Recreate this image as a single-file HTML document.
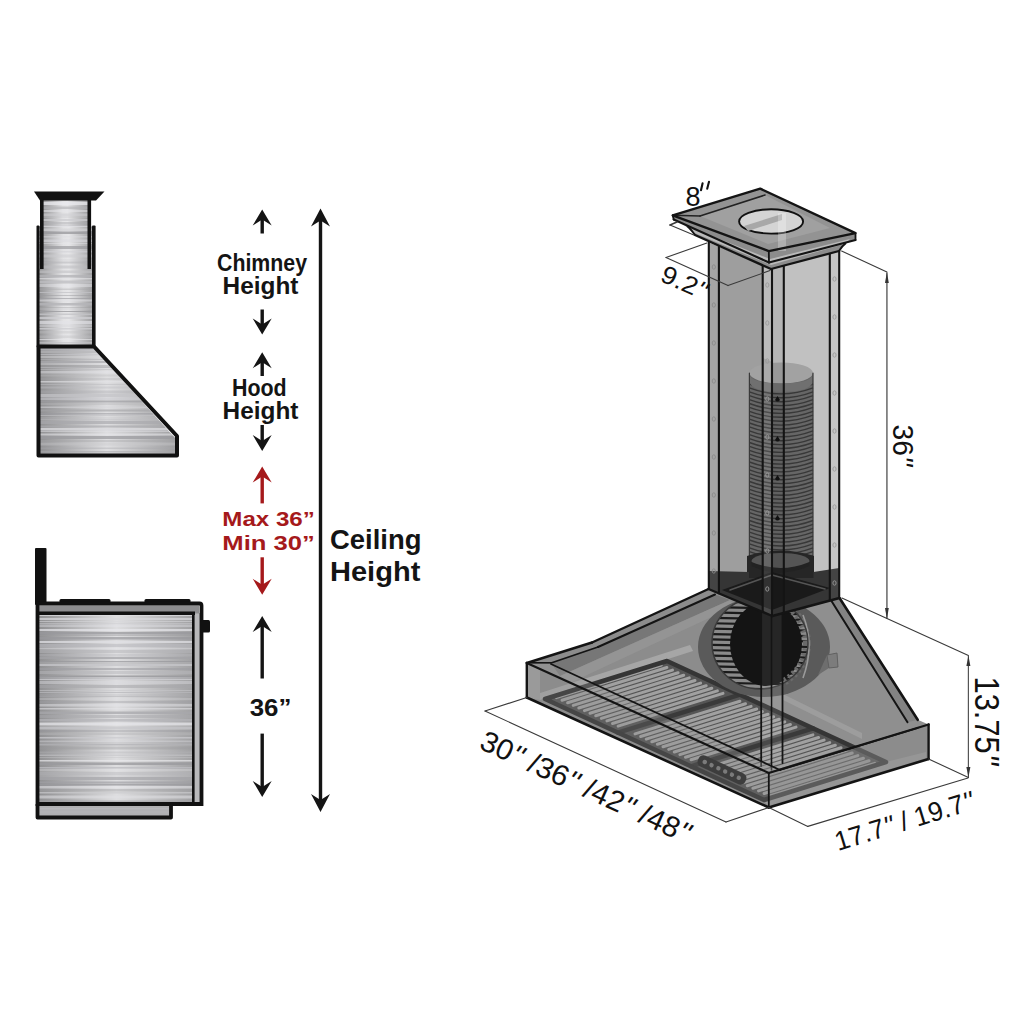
<!DOCTYPE html><html><head><meta charset="utf-8"><style>
html,body{margin:0;padding:0;background:#fff;width:1024px;height:1024px;overflow:hidden}
svg{display:block}
.b{font-family:"Liberation Sans",sans-serif;font-weight:bold}
.r{font-family:"Liberation Sans",sans-serif;font-weight:normal}
</style></head><body>
<svg width="1024" height="1024" viewBox="0 0 1024 1024">
<defs>
<linearGradient id="steel" x1="0" x2="1" y1="0" y2="0">
<stop offset="0" stop-color="#8e8e90"/><stop offset="0.45" stop-color="#e2e2e4"/><stop offset="0.55" stop-color="#e6e6e8"/><stop offset="1" stop-color="#9a9a9c"/>
</linearGradient>
<linearGradient id="steel2" x1="0" x2="1" y1="0" y2="0">
<stop offset="0" stop-color="#909092"/><stop offset="0.5" stop-color="#dedee0"/><stop offset="1" stop-color="#a0a0a2"/>
</linearGradient>
</defs>
<rect width="1024" height="1024" fill="#fff"/>
<g id="lefthood"><rect x="41" y="200" width="48" height="147" fill="url(#steel)"/><rect x="38" y="226" width="56" height="121" fill="url(#steel)"/><g><rect x="41" y="200.0" width="47" height="1" fill="rgb(161,161,165)" opacity="0.39"/><rect x="41" y="202.0" width="47" height="3" fill="rgb(235,235,239)" opacity="0.73"/><rect x="41" y="206.5" width="47" height="2.5" fill="rgb(177,177,181)" opacity="0.62"/><rect x="41" y="210.0" width="47" height="2" fill="rgb(231,231,235)" opacity="0.53"/><rect x="41" y="213.5" width="47" height="2.5" fill="rgb(206,206,210)" opacity="0.58"/><rect x="41" y="216.5" width="47" height="1" fill="rgb(196,196,200)" opacity="0.56"/><rect x="41" y="219.0" width="47" height="2" fill="rgb(204,204,208)" opacity="0.75"/><rect x="41" y="222.0" width="47" height="2.5" fill="rgb(172,172,176)" opacity="0.46"/><rect x="41" y="225.0" width="47" height="1" fill="rgb(191,191,195)" opacity="0.43"/></g><g><rect x="38" y="226.0" width="56" height="1" fill="rgb(225,225,229)" opacity="0.59"/><rect x="38" y="228.5" width="56" height="2.5" fill="rgb(210,210,214)" opacity="0.63"/><rect x="38" y="231.5" width="56" height="2.5" fill="rgb(151,151,155)" opacity="0.76"/><rect x="38" y="236.0" width="56" height="1.5" fill="rgb(220,220,224)" opacity="0.46"/><rect x="38" y="239.5" width="56" height="2.5" fill="rgb(220,220,224)" opacity="0.56"/><rect x="38" y="243.0" width="56" height="1" fill="rgb(231,231,235)" opacity="0.42"/><rect x="38" y="246.0" width="56" height="3" fill="rgb(151,151,155)" opacity="0.65"/><rect x="38" y="249.5" width="56" height="1" fill="rgb(225,225,229)" opacity="0.37"/><rect x="38" y="251.0" width="56" height="1.5" fill="rgb(210,210,214)" opacity="0.62"/><rect x="38" y="254.5" width="56" height="3" fill="rgb(204,204,208)" opacity="0.53"/><rect x="38" y="259.5" width="56" height="1" fill="rgb(196,196,200)" opacity="0.39"/><rect x="38" y="261.5" width="56" height="2" fill="rgb(177,177,181)" opacity="0.47"/><rect x="38" y="265.5" width="56" height="3" fill="rgb(188,188,192)" opacity="0.54"/><rect x="38" y="270.5" width="56" height="2.5" fill="rgb(194,194,198)" opacity="0.59"/><rect x="38" y="275.0" width="56" height="2.5" fill="rgb(179,179,183)" opacity="0.76"/><rect x="38" y="278.0" width="56" height="1.5" fill="rgb(227,227,231)" opacity="0.65"/><rect x="38" y="280.5" width="56" height="3" fill="rgb(191,191,195)" opacity="0.78"/><rect x="38" y="284.0" width="56" height="3" fill="rgb(233,233,237)" opacity="0.45"/><rect x="38" y="288.5" width="56" height="1.5" fill="rgb(165,165,169)" opacity="0.38"/><rect x="38" y="292.0" width="56" height="1" fill="rgb(194,194,198)" opacity="0.71"/><rect x="38" y="295.0" width="56" height="1" fill="rgb(152,152,156)" opacity="0.48"/><rect x="38" y="298.0" width="56" height="1" fill="rgb(155,155,159)" opacity="0.62"/><rect x="38" y="299.5" width="56" height="2" fill="rgb(225,225,229)" opacity="0.50"/><rect x="38" y="303.0" width="56" height="2.5" fill="rgb(180,180,184)" opacity="0.80"/><rect x="38" y="307.0" width="56" height="1" fill="rgb(159,159,163)" opacity="0.40"/><rect x="38" y="308.5" width="56" height="1" fill="rgb(202,202,206)" opacity="0.48"/><rect x="38" y="311.0" width="56" height="1" fill="rgb(155,155,159)" opacity="0.79"/><rect x="38" y="313.5" width="56" height="1.5" fill="rgb(196,196,200)" opacity="0.78"/><rect x="38" y="317.0" width="56" height="2" fill="rgb(208,208,212)" opacity="0.74"/><rect x="38" y="321.0" width="56" height="3" fill="rgb(226,226,230)" opacity="0.66"/><rect x="38" y="324.5" width="56" height="2.5" fill="rgb(214,214,218)" opacity="0.47"/><rect x="38" y="328.0" width="56" height="1.5" fill="rgb(205,205,209)" opacity="0.79"/><rect x="38" y="331.0" width="56" height="2.5" fill="rgb(193,193,197)" opacity="0.36"/><rect x="38" y="335.5" width="56" height="2.5" fill="rgb(190,190,194)" opacity="0.36"/><rect x="38" y="339.0" width="56" height="1" fill="rgb(231,231,235)" opacity="0.63"/><rect x="38" y="342.0" width="56" height="1.5" fill="rgb(195,195,199)" opacity="0.62"/><rect x="38" y="345.0" width="56" height="3" fill="rgb(212,212,216)" opacity="0.36"/></g><path d="M39,348 L93.5,348 L175,438 L175,454 L39,454 Z" fill="url(#steel2)"/><clipPath id="hc"><path d="M39,348 L93.5,348 L175,438 L175,454 L39,454 Z"/></clipPath><g clip-path="url(#hc)"><rect x="39" y="348.0" width="137" height="2.5" fill="rgb(182,182,186)" opacity="0.68"/><rect x="39" y="351.0" width="137" height="2" fill="rgb(181,181,185)" opacity="0.64"/><rect x="39" y="354.0" width="137" height="1" fill="rgb(197,197,201)" opacity="0.56"/><rect x="39" y="356.0" width="137" height="2" fill="rgb(219,219,223)" opacity="0.40"/><rect x="39" y="359.0" width="137" height="1" fill="rgb(177,177,181)" opacity="0.53"/><rect x="39" y="361.0" width="137" height="2" fill="rgb(170,170,174)" opacity="0.69"/><rect x="39" y="363.5" width="137" height="1" fill="rgb(229,229,233)" opacity="0.63"/><rect x="39" y="365.5" width="137" height="1" fill="rgb(150,150,154)" opacity="0.79"/><rect x="39" y="367.0" width="137" height="1" fill="rgb(177,177,181)" opacity="0.78"/><rect x="39" y="369.0" width="137" height="1" fill="rgb(187,187,191)" opacity="0.49"/><rect x="39" y="371.0" width="137" height="2.5" fill="rgb(230,230,234)" opacity="0.44"/><rect x="39" y="374.5" width="137" height="2" fill="rgb(188,188,192)" opacity="0.36"/><rect x="39" y="378.5" width="137" height="1" fill="rgb(168,168,172)" opacity="0.47"/><rect x="39" y="381.0" width="137" height="1.5" fill="rgb(227,227,231)" opacity="0.61"/><rect x="39" y="384.0" width="137" height="1" fill="rgb(189,189,193)" opacity="0.51"/><rect x="39" y="386.5" width="137" height="2" fill="rgb(190,190,194)" opacity="0.43"/><rect x="39" y="390.5" width="137" height="3" fill="rgb(172,172,176)" opacity="0.38"/><rect x="39" y="394.0" width="137" height="3" fill="rgb(195,195,199)" opacity="0.73"/><rect x="39" y="397.5" width="137" height="2.5" fill="rgb(203,203,207)" opacity="0.51"/><rect x="39" y="400.5" width="137" height="2" fill="rgb(155,155,159)" opacity="0.67"/><rect x="39" y="403.5" width="137" height="1" fill="rgb(181,181,185)" opacity="0.77"/><rect x="39" y="406.5" width="137" height="1.5" fill="rgb(215,215,219)" opacity="0.51"/><rect x="39" y="409.5" width="137" height="2" fill="rgb(163,163,167)" opacity="0.62"/><rect x="39" y="413.0" width="137" height="1.5" fill="rgb(154,154,158)" opacity="0.54"/><rect x="39" y="415.0" width="137" height="1" fill="rgb(193,193,197)" opacity="0.58"/><rect x="39" y="417.5" width="137" height="1" fill="rgb(193,193,197)" opacity="0.47"/><rect x="39" y="419.0" width="137" height="1.5" fill="rgb(190,190,194)" opacity="0.49"/><rect x="39" y="421.0" width="137" height="3" fill="rgb(169,169,173)" opacity="0.67"/><rect x="39" y="425.5" width="137" height="2" fill="rgb(170,170,174)" opacity="0.67"/><rect x="39" y="428.0" width="137" height="2.5" fill="rgb(218,218,222)" opacity="0.77"/><rect x="39" y="431.0" width="137" height="1" fill="rgb(226,226,230)" opacity="0.50"/><rect x="39" y="433.5" width="137" height="2" fill="rgb(233,233,237)" opacity="0.54"/><rect x="39" y="436.0" width="137" height="3" fill="rgb(154,154,158)" opacity="0.71"/><rect x="39" y="440.5" width="137" height="1" fill="rgb(166,166,170)" opacity="0.79"/><rect x="39" y="442.5" width="137" height="3" fill="rgb(202,202,206)" opacity="0.40"/><rect x="39" y="447.5" width="137" height="1.5" fill="rgb(169,169,173)" opacity="0.38"/><rect x="39" y="451.0" width="137" height="1.5" fill="rgb(168,168,172)" opacity="0.55"/><rect x="39" y="453.5" width="137" height="2.5" fill="rgb(208,208,212)" opacity="0.78"/></g><path d="M34,191.5 L104.5,191.5 L96,200.5 L40,200.5 Z" fill="#111"/><rect x="40" y="199" width="3.6" height="70" fill="#111"/><rect x="87.5" y="199" width="3.6" height="70" fill="#111"/><rect x="36.5" y="225.5" width="3" height="122" rx="1" fill="#111"/><rect x="92" y="225.5" width="3.6" height="122" rx="1" fill="#111"/><path d="M38.5,346.5 L94,346.5 L177,436 L177,455.5 L38.5,455.5 Z" fill="none" stroke="#111" stroke-width="4" stroke-linejoin="round"/></g><g id="stove"><rect x="39" y="613" width="155" height="189" fill="url(#steel2)"/><g><rect x="39" y="614.0" width="154" height="2" fill="rgb(221,221,225)" opacity="0.74"/><rect x="39" y="618.0" width="154" height="2" fill="rgb(215,215,219)" opacity="0.73"/><rect x="39" y="621.0" width="154" height="1" fill="rgb(215,215,219)" opacity="0.56"/><rect x="39" y="623.0" width="154" height="1" fill="rgb(207,207,211)" opacity="0.49"/><rect x="39" y="624.5" width="154" height="2.5" fill="rgb(231,231,235)" opacity="0.37"/><rect x="39" y="629.0" width="154" height="2" fill="rgb(233,233,237)" opacity="0.68"/><rect x="39" y="632.0" width="154" height="2.5" fill="rgb(151,151,155)" opacity="0.72"/><rect x="39" y="635.0" width="154" height="1" fill="rgb(154,154,158)" opacity="0.44"/><rect x="39" y="637.0" width="154" height="2.5" fill="rgb(153,153,157)" opacity="0.70"/><rect x="39" y="641.0" width="154" height="2" fill="rgb(225,225,229)" opacity="0.73"/><rect x="39" y="644.0" width="154" height="3" fill="rgb(187,187,191)" opacity="0.57"/><rect x="39" y="647.5" width="154" height="2" fill="rgb(233,233,237)" opacity="0.48"/><rect x="39" y="650.0" width="154" height="3" fill="rgb(182,182,186)" opacity="0.49"/><rect x="39" y="654.0" width="154" height="2.5" fill="rgb(186,186,190)" opacity="0.36"/><rect x="39" y="657.0" width="154" height="2" fill="rgb(163,163,167)" opacity="0.73"/><rect x="39" y="661.0" width="154" height="1" fill="rgb(152,152,156)" opacity="0.73"/><rect x="39" y="662.5" width="154" height="1" fill="rgb(176,176,180)" opacity="0.77"/><rect x="39" y="664.0" width="154" height="2" fill="rgb(198,198,202)" opacity="0.79"/><rect x="39" y="668.0" width="154" height="2" fill="rgb(159,159,163)" opacity="0.60"/><rect x="39" y="671.0" width="154" height="3" fill="rgb(184,184,188)" opacity="0.50"/><rect x="39" y="675.5" width="154" height="1.5" fill="rgb(151,151,155)" opacity="0.78"/><rect x="39" y="677.5" width="154" height="1" fill="rgb(181,181,185)" opacity="0.67"/><rect x="39" y="679.0" width="154" height="1" fill="rgb(209,209,213)" opacity="0.71"/><rect x="39" y="681.0" width="154" height="3" fill="rgb(221,221,225)" opacity="0.43"/><rect x="39" y="685.0" width="154" height="3" fill="rgb(166,166,170)" opacity="0.54"/><rect x="39" y="690.0" width="154" height="1" fill="rgb(200,200,204)" opacity="0.54"/><rect x="39" y="692.0" width="154" height="1" fill="rgb(184,184,188)" opacity="0.74"/><rect x="39" y="694.5" width="154" height="1" fill="rgb(176,176,180)" opacity="0.43"/><rect x="39" y="696.0" width="154" height="1" fill="rgb(168,168,172)" opacity="0.45"/><rect x="39" y="698.5" width="154" height="1" fill="rgb(228,228,232)" opacity="0.50"/><rect x="39" y="701.0" width="154" height="2" fill="rgb(159,159,163)" opacity="0.38"/><rect x="39" y="704.0" width="154" height="2.5" fill="rgb(231,231,235)" opacity="0.46"/><rect x="39" y="708.0" width="154" height="1.5" fill="rgb(229,229,233)" opacity="0.55"/><rect x="39" y="711.5" width="154" height="2.5" fill="rgb(167,167,171)" opacity="0.74"/><rect x="39" y="715.0" width="154" height="3" fill="rgb(169,169,173)" opacity="0.49"/><rect x="39" y="719.0" width="154" height="2.5" fill="rgb(181,181,185)" opacity="0.68"/><rect x="39" y="722.5" width="154" height="3" fill="rgb(230,230,234)" opacity="0.77"/><rect x="39" y="726.5" width="154" height="3" fill="rgb(199,199,203)" opacity="0.75"/><rect x="39" y="730.0" width="154" height="2" fill="rgb(156,156,160)" opacity="0.40"/><rect x="39" y="732.5" width="154" height="2.5" fill="rgb(182,182,186)" opacity="0.46"/><rect x="39" y="737.0" width="154" height="1.5" fill="rgb(203,203,207)" opacity="0.72"/><rect x="39" y="740.5" width="154" height="1.5" fill="rgb(216,216,220)" opacity="0.43"/><rect x="39" y="742.5" width="154" height="1" fill="rgb(179,179,183)" opacity="0.57"/><rect x="39" y="744.0" width="154" height="1.5" fill="rgb(177,177,181)" opacity="0.76"/><rect x="39" y="746.5" width="154" height="3" fill="rgb(152,152,156)" opacity="0.38"/><rect x="39" y="751.5" width="154" height="2" fill="rgb(181,181,185)" opacity="0.38"/><rect x="39" y="754.5" width="154" height="1.5" fill="rgb(197,197,201)" opacity="0.59"/><rect x="39" y="757.0" width="154" height="1" fill="rgb(196,196,200)" opacity="0.41"/><rect x="39" y="760.0" width="154" height="1.5" fill="rgb(234,234,238)" opacity="0.68"/><rect x="39" y="762.5" width="154" height="2.5" fill="rgb(154,154,158)" opacity="0.77"/><rect x="39" y="767.0" width="154" height="1.5" fill="rgb(189,189,193)" opacity="0.78"/><rect x="39" y="769.0" width="154" height="2.5" fill="rgb(231,231,235)" opacity="0.38"/><rect x="39" y="772.0" width="154" height="3" fill="rgb(189,189,193)" opacity="0.49"/><rect x="39" y="775.5" width="154" height="1" fill="rgb(207,207,211)" opacity="0.60"/><rect x="39" y="777.0" width="154" height="3" fill="rgb(166,166,170)" opacity="0.71"/><rect x="39" y="781.5" width="154" height="1.5" fill="rgb(160,160,164)" opacity="0.66"/><rect x="39" y="783.5" width="154" height="2" fill="rgb(153,153,157)" opacity="0.74"/><rect x="39" y="786.0" width="154" height="2.5" fill="rgb(234,234,238)" opacity="0.52"/><rect x="39" y="789.0" width="154" height="2.5" fill="rgb(159,159,163)" opacity="0.39"/><rect x="39" y="792.0" width="154" height="1.5" fill="rgb(203,203,207)" opacity="0.68"/><rect x="39" y="795.5" width="154" height="3" fill="rgb(224,224,228)" opacity="0.56"/><rect x="39" y="800.5" width="154" height="2.5" fill="rgb(160,160,164)" opacity="0.58"/></g><rect x="194" y="613" width="6" height="189" fill="#b8b8ba"/><rect x="39" y="806" width="131" height="11" fill="#b0b0b2"/><g><rect x="40" y="808.0" width="129" height="1.5" fill="rgb(187,187,191)" opacity="0.66"/><rect x="40" y="810.5" width="129" height="3" fill="rgb(179,179,183)" opacity="0.65"/><rect x="40" y="814.5" width="129" height="3" fill="rgb(173,173,177)" opacity="0.41"/></g><rect x="35" y="548" width="11.5" height="57" rx="1" fill="#111"/><rect x="59.5" y="599" width="51" height="6" rx="1.5" fill="#111"/><rect x="144.5" y="599" width="46" height="6" rx="1.5" fill="#111"/><rect x="38" y="605.5" width="161" height="8" fill="#8d8d8f"/><path d="M37.5,603.5 L199.5,603.5 Q201.5,603.5 201.5,605.5 L201.5,804 L37.5,804 Z" fill="none" stroke="#111" stroke-width="3.8"/><rect x="37" y="611.5" width="158" height="3.5" fill="#111"/><rect x="192" y="612" width="2.6" height="190" fill="#111"/><path d="M37.5,804 L37.5,817.5 L171,817.5 L171,804" fill="none" stroke="#111" stroke-width="3.8" stroke-linejoin="round"/><rect x="200" y="620" width="10" height="12.5" rx="1.5" fill="#111"/></g><path d="M262.2,209.5 L271.7,225.5 L262.2,219.5 L252.7,225.5 Z" fill="#141414"/><rect x="260.5" y="218.5" width="3.4" height="15.0" fill="#141414"/><path d="M262.2,334.5 L271.7,318.5 L262.2,324.5 L252.7,318.5 Z" fill="#141414"/><rect x="260.5" y="309.5" width="3.4" height="16.0" fill="#141414"/><path d="M262.2,352.2 L271.7,368.2 L262.2,362.2 L252.7,368.2 Z" fill="#141414"/><rect x="260.5" y="361.2" width="3.4" height="14.800000000000011" fill="#141414"/><path d="M262.2,451 L271.7,435 L262.2,441 L252.7,435 Z" fill="#141414"/><rect x="260.5" y="425" width="3.4" height="17" fill="#141414"/><path d="M262.2,466.6 L271.7,482.6 L262.2,476.6 L252.7,482.6 Z" fill="#a5191b"/><rect x="260.5" y="475.6" width="3.4" height="27.799999999999955" fill="#a5191b"/><path d="M262.2,594.8 L271.7,578.8 L262.2,584.8 L252.7,578.8 Z" fill="#a5191b"/><rect x="260.5" y="557.3" width="3.4" height="28.5" fill="#a5191b"/><path d="M262.2,616 L271.7,632 L262.2,626 L252.7,632 Z" fill="#141414"/><rect x="260.5" y="625" width="3.4" height="53.5" fill="#141414"/><path d="M262.2,796.9 L271.7,780.9 L262.2,786.9 L252.7,780.9 Z" fill="#141414"/><rect x="260.5" y="733.6" width="3.4" height="54.299999999999955" fill="#141414"/><path d="M320.5,208.4 L330.0,226.4 L320.5,220.4 L311.0,226.4 Z" fill="#141414"/><path d="M320.5,812 L330.0,794 L320.5,800 L311.0,794 Z" fill="#141414"/><rect x="318.8" y="218" width="3.4" height="585" fill="#141414"/><text class="b" x="217" y="271" font-size="23.3" fill="#141414" textLength="90" lengthAdjust="spacingAndGlyphs">Chimney</text><text class="b" x="222.6" y="294" font-size="23.3" fill="#141414" textLength="75.79999999999998" lengthAdjust="spacingAndGlyphs">Height</text><text class="b" x="232" y="396" font-size="23.3" fill="#141414" textLength="54.69999999999999" lengthAdjust="spacingAndGlyphs">Hood</text><text class="b" x="222.6" y="419" font-size="23.3" fill="#141414" textLength="75.79999999999998" lengthAdjust="spacingAndGlyphs">Height</text><text class="b" x="222.3" y="525.6" font-size="21" fill="#a5191b" textLength="92.5" lengthAdjust="spacingAndGlyphs">Max 36”</text><text class="b" x="222.3" y="549.8" font-size="21" fill="#a5191b" textLength="92.5" lengthAdjust="spacingAndGlyphs">Min 30”</text><text class="b" x="330" y="548.6" font-size="28.3" fill="#141414" textLength="91.5" lengthAdjust="spacingAndGlyphs">Ceiling</text><text class="b" x="330" y="580.7" font-size="28.3" fill="#141414" textLength="90.30000000000001" lengthAdjust="spacingAndGlyphs">Height</text><text class="b" x="249.7" y="716" font-size="24.2" fill="#141414" textLength="41.69999999999999" lengthAdjust="spacingAndGlyphs">36”</text><g id="right"><polygon points="526.8,663.0 592.0,642.5 708.5,589.0 772.3,616.0 768.8,773.0" fill="#8c8c8c" stroke="none" stroke-width="0" stroke-linejoin="round" /><polygon points="768.8,773.0 772.3,616.0 839.5,598.0 917.7,719.8 928.6,724.5" fill="#8f8f8f" stroke="none" stroke-width="0" stroke-linejoin="round" /><polygon points="526.8,663.0 768.8,773.0 768.8,807.5 526.8,697.5" fill="#8c8c8c" stroke="none" stroke-width="0" stroke-linejoin="round" /><polygon points="768.8,773.0 928.6,724.5 928.6,759.0 768.8,807.5" fill="#8e8e8e" stroke="none" stroke-width="0" stroke-linejoin="round" /><polygon points="783.0,694.0 862.0,733.0 862.0,739.0 783.0,700.0" fill="#a2a2a2" stroke="none" stroke-width="0" stroke-linejoin="round" opacity="0.7"/><clipPath id="hoodclip"><polygon points="526.8,663.0 592.0,642.5 708.5,589.0 772.3,616.0 839.5,598.0 917.7,719.8 928.6,724.5 928.6,759.0 768.8,807.5 526.8,697.5" fill="none" stroke="none" stroke-width="0" stroke-linejoin="round" /></clipPath><g clip-path="url(#hoodclip)"><polygon points="551.0,663.0 598.0,647.0 715.0,594.5 730.0,600.0 600.0,658.0 560.0,676.0" fill="#6e6e6e" stroke="none" stroke-width="0" stroke-linejoin="round" opacity="0.7"/><polygon points="560.0,676.0 730.0,600.0 735.0,606.0 572.0,682.0" fill="#999999" stroke="none" stroke-width="0" stroke-linejoin="round" opacity="0.6"/><polygon points="537.0,694.0 690.0,645.0 693.0,651.0 540.0,700.0" fill="#a6a6a6" stroke="none" stroke-width="0" stroke-linejoin="round" /><polygon points="764.0,800.0 886.0,762.0 926.0,752.0 926.0,758.0 768.0,806.0" fill="#a0a0a0" stroke="none" stroke-width="0" stroke-linejoin="round" /><polygon points="545.0,699.0 764.0,800.0 886.0,762.0 667.0,661.0" fill="#555555" stroke="none" stroke-width="0" stroke-linejoin="round" /><line x1="556.3" y1="697.6" x2="661.3" y2="665.0" stroke="#a0a0a0" stroke-width="3.0" stroke-linecap="round" /><line x1="562.0" y1="700.2" x2="666.9" y2="667.5" stroke="#a0a0a0" stroke-width="3.0" stroke-linecap="round" /><line x1="567.6" y1="702.8" x2="672.5" y2="670.1" stroke="#a0a0a0" stroke-width="3.0" stroke-linecap="round" /><line x1="573.2" y1="705.4" x2="678.1" y2="672.7" stroke="#a0a0a0" stroke-width="3.0" stroke-linecap="round" /><line x1="578.8" y1="708.0" x2="683.7" y2="675.3" stroke="#a0a0a0" stroke-width="3.0" stroke-linecap="round" /><line x1="584.4" y1="710.6" x2="689.3" y2="677.9" stroke="#a0a0a0" stroke-width="3.0" stroke-linecap="round" /><line x1="590.0" y1="713.2" x2="695.0" y2="680.5" stroke="#a0a0a0" stroke-width="3.0" stroke-linecap="round" /><line x1="595.7" y1="715.8" x2="700.6" y2="683.1" stroke="#a0a0a0" stroke-width="3.0" stroke-linecap="round" /><line x1="601.3" y1="718.4" x2="706.2" y2="685.7" stroke="#a0a0a0" stroke-width="3.0" stroke-linecap="round" /><line x1="606.9" y1="720.9" x2="711.8" y2="688.3" stroke="#a0a0a0" stroke-width="3.0" stroke-linecap="round" /><line x1="612.5" y1="723.5" x2="717.4" y2="690.9" stroke="#a0a0a0" stroke-width="3.0" stroke-linecap="round" /><line x1="618.1" y1="726.1" x2="723.0" y2="693.4" stroke="#a0a0a0" stroke-width="3.0" stroke-linecap="round" /><line x1="635.0" y1="733.9" x2="739.9" y2="701.2" stroke="#a0a0a0" stroke-width="3.0" stroke-linecap="round" /><line x1="640.6" y1="736.5" x2="745.5" y2="703.8" stroke="#a0a0a0" stroke-width="3.0" stroke-linecap="round" /><line x1="646.2" y1="739.1" x2="751.1" y2="706.4" stroke="#a0a0a0" stroke-width="3.0" stroke-linecap="round" /><line x1="651.8" y1="741.7" x2="756.7" y2="709.0" stroke="#a0a0a0" stroke-width="3.0" stroke-linecap="round" /><line x1="657.4" y1="744.3" x2="762.3" y2="711.6" stroke="#a0a0a0" stroke-width="3.0" stroke-linecap="round" /><line x1="663.0" y1="746.8" x2="768.0" y2="714.2" stroke="#a0a0a0" stroke-width="3.0" stroke-linecap="round" /><line x1="668.7" y1="749.4" x2="773.6" y2="716.7" stroke="#a0a0a0" stroke-width="3.0" stroke-linecap="round" /><line x1="674.3" y1="752.0" x2="779.2" y2="719.3" stroke="#a0a0a0" stroke-width="3.0" stroke-linecap="round" /><line x1="679.9" y1="754.6" x2="784.8" y2="721.9" stroke="#a0a0a0" stroke-width="3.0" stroke-linecap="round" /><line x1="685.5" y1="757.2" x2="790.4" y2="724.5" stroke="#a0a0a0" stroke-width="3.0" stroke-linecap="round" /><line x1="691.1" y1="759.8" x2="796.0" y2="727.1" stroke="#a0a0a0" stroke-width="3.0" stroke-linecap="round" /><line x1="708.0" y1="767.6" x2="812.9" y2="734.9" stroke="#a0a0a0" stroke-width="3.0" stroke-linecap="round" /><line x1="713.6" y1="770.1" x2="818.5" y2="737.5" stroke="#a0a0a0" stroke-width="3.0" stroke-linecap="round" /><line x1="719.2" y1="772.7" x2="824.1" y2="740.1" stroke="#a0a0a0" stroke-width="3.0" stroke-linecap="round" /><line x1="724.8" y1="775.3" x2="829.7" y2="742.6" stroke="#a0a0a0" stroke-width="3.0" stroke-linecap="round" /><line x1="730.4" y1="777.9" x2="835.3" y2="745.2" stroke="#a0a0a0" stroke-width="3.0" stroke-linecap="round" /><line x1="736.0" y1="780.5" x2="841.0" y2="747.8" stroke="#a0a0a0" stroke-width="3.0" stroke-linecap="round" /><line x1="741.7" y1="783.1" x2="846.6" y2="750.4" stroke="#a0a0a0" stroke-width="3.0" stroke-linecap="round" /><line x1="747.3" y1="785.7" x2="852.2" y2="753.0" stroke="#a0a0a0" stroke-width="3.0" stroke-linecap="round" /><line x1="752.9" y1="788.3" x2="857.8" y2="755.6" stroke="#a0a0a0" stroke-width="3.0" stroke-linecap="round" /><line x1="758.5" y1="790.9" x2="863.4" y2="758.2" stroke="#a0a0a0" stroke-width="3.0" stroke-linecap="round" /><line x1="764.1" y1="793.5" x2="869.0" y2="760.8" stroke="#a0a0a0" stroke-width="3.0" stroke-linecap="round" /><line x1="769.7" y1="796.0" x2="874.7" y2="763.4" stroke="#a0a0a0" stroke-width="3.0" stroke-linecap="round" /><line x1="618.0" y1="732.7" x2="740.0" y2="694.7" stroke="#3a3a3a" stroke-width="4.5" stroke-linecap="round" /><line x1="691.0" y1="766.3" x2="813.0" y2="728.3" stroke="#3a3a3a" stroke-width="4.5" stroke-linecap="round" /><polygon points="545.0,699.0 764.0,800.0 886.0,762.0 667.0,661.0" fill="none" stroke="#353535" stroke-width="4.5" stroke-linejoin="round" /><g transform="translate(722,770) rotate(25)"><rect x="-26" y="-6" width="52" height="12" rx="5" fill="#2a2a2a"/><circle cx="-19.0" cy="0" r="2.2" fill="#777"/><circle cx="-11.5" cy="0" r="2.2" fill="#777"/><circle cx="-4.0" cy="0" r="2.2" fill="#777"/><circle cx="3.5" cy="0" r="2.2" fill="#777"/><circle cx="11.0" cy="0" r="2.2" fill="#777"/><circle cx="18.5" cy="0" r="2.2" fill="#777"/></g></g><ellipse cx="764" cy="647" rx="66" ry="50" fill="#5a5a5a"/><clipPath id="wheel"><ellipse cx="760" cy="643" rx="48" ry="46"/></clipPath><g clip-path="url(#wheel)"><rect x="700" y="590" width="120" height="110" fill="#8a8a8a"/><line x1="700.0" y1="596.0" x2="820.0" y2="598.5" stroke="#1a1a1a" stroke-width="2.2" stroke-linecap="round" /><line x1="700.0" y1="601.4" x2="820.0" y2="603.9" stroke="#1a1a1a" stroke-width="2.2" stroke-linecap="round" /><line x1="700.0" y1="606.8" x2="820.0" y2="609.3" stroke="#1a1a1a" stroke-width="2.2" stroke-linecap="round" /><line x1="700.0" y1="612.2" x2="820.0" y2="614.7" stroke="#1a1a1a" stroke-width="2.2" stroke-linecap="round" /><line x1="700.0" y1="617.6" x2="820.0" y2="620.1" stroke="#1a1a1a" stroke-width="2.2" stroke-linecap="round" /><line x1="700.0" y1="623.0" x2="820.0" y2="625.5" stroke="#1a1a1a" stroke-width="2.2" stroke-linecap="round" /><line x1="700.0" y1="628.4" x2="820.0" y2="630.9" stroke="#1a1a1a" stroke-width="2.2" stroke-linecap="round" /><line x1="700.0" y1="633.8" x2="820.0" y2="636.3" stroke="#1a1a1a" stroke-width="2.2" stroke-linecap="round" /><line x1="700.0" y1="639.2" x2="820.0" y2="641.7" stroke="#1a1a1a" stroke-width="2.2" stroke-linecap="round" /><line x1="700.0" y1="644.6" x2="820.0" y2="647.1" stroke="#1a1a1a" stroke-width="2.2" stroke-linecap="round" /><line x1="700.0" y1="650.0" x2="820.0" y2="652.5" stroke="#1a1a1a" stroke-width="2.2" stroke-linecap="round" /><line x1="700.0" y1="655.4" x2="820.0" y2="657.9" stroke="#1a1a1a" stroke-width="2.2" stroke-linecap="round" /><line x1="700.0" y1="660.8" x2="820.0" y2="663.3" stroke="#1a1a1a" stroke-width="2.2" stroke-linecap="round" /><line x1="700.0" y1="666.2" x2="820.0" y2="668.7" stroke="#1a1a1a" stroke-width="2.2" stroke-linecap="round" /><line x1="700.0" y1="671.6" x2="820.0" y2="674.1" stroke="#1a1a1a" stroke-width="2.2" stroke-linecap="round" /><line x1="700.0" y1="677.0" x2="820.0" y2="679.5" stroke="#1a1a1a" stroke-width="2.2" stroke-linecap="round" /><line x1="700.0" y1="682.4" x2="820.0" y2="684.9" stroke="#1a1a1a" stroke-width="2.2" stroke-linecap="round" /><line x1="700.0" y1="687.8" x2="820.0" y2="690.3" stroke="#1a1a1a" stroke-width="2.2" stroke-linecap="round" /></g><ellipse cx="766" cy="644" rx="36" ry="42" fill="#141414"/><clipPath id="wheelR"><path d="M783,600 L830,600 L830,695 L783,695 Z"/></clipPath><g clip-path="url(#wheelR)"><ellipse cx="760" cy="643" rx="47" ry="45" fill="none" stroke="#6a6a6a" stroke-width="8" stroke-dasharray="2.5 3"/></g><path d="M803,615 Q815,645 803,678" fill="none" stroke="#9a9a9a" stroke-width="1.6"/><ellipse cx="760" cy="643" rx="48" ry="46" fill="none" stroke="#3a3a3a" stroke-width="1.5"/><path d="M827,655 L837,653 L838,667 L829,668 L818,675 Z" fill="#6e6e6e"/><path d="M827,655 L837,653 L838,667 L829,668 Z" fill="#7c7c7c" stroke="#5a5a5a" stroke-width="0.8"/><line x1="526.8" y1="663.0" x2="592.0" y2="642.5" stroke="#141414" stroke-width="2.4" stroke-linecap="round" /><line x1="592.0" y1="642.5" x2="708.5" y2="589.0" stroke="#141414" stroke-width="2.4" stroke-linecap="round" /><line x1="551.0" y1="663.0" x2="598.0" y2="647.0" stroke="#141414" stroke-width="1.8" stroke-linecap="round" /><line x1="598.0" y1="647.0" x2="715.0" y2="594.5" stroke="#141414" stroke-width="2.0" stroke-linecap="round" /><line x1="526.8" y1="663.0" x2="551.0" y2="663.0" stroke="#141414" stroke-width="1.8" stroke-linecap="round" /><polygon points="839.5,598.0 917.7,719.8 907.5,722.2 831.0,600.3" fill="#838383" stroke="none" stroke-width="0" stroke-linejoin="round" /><line x1="839.5" y1="598.0" x2="917.7" y2="719.8" stroke="#141414" stroke-width="2.6" stroke-linecap="round" /><line x1="831.0" y1="600.3" x2="907.5" y2="722.2" stroke="#141414" stroke-width="2.0" stroke-linecap="round" /><polygon points="761.2,611.0 782.5,610.0 782.5,763.0 761.2,766.0" fill="#ffffff" stroke="none" stroke-width="0" stroke-linejoin="round" opacity="0.08"/><line x1="761.2" y1="611.0" x2="761.2" y2="766.0" stroke="#141414" stroke-width="1.8" stroke-linecap="round" /><line x1="771.5" y1="616.0" x2="771.5" y2="770.0" stroke="#141414" stroke-width="1.6" stroke-linecap="round" /><line x1="782.5" y1="610.0" x2="782.5" y2="763.0" stroke="#141414" stroke-width="1.8" stroke-linecap="round" /><polygon points="526.8,663.0 551.0,663.0 780.0,770.0 768.8,773.0" fill="#9a9a9a" stroke="none" stroke-width="0" stroke-linejoin="round" opacity="0.35"/><polygon points="526.8,663.0 768.8,773.0 768.8,807.5 526.8,697.5" fill="#8a8a8a" stroke="none" stroke-width="0" stroke-linejoin="round" opacity="0.2"/><polygon points="526.8,663.0 540.0,669.0 540.0,700.0 526.8,697.5" fill="#9a9a9a" stroke="none" stroke-width="0" stroke-linejoin="round" /><polygon points="768.8,773.0 928.6,724.5 928.6,759.0 768.8,807.5" fill="#8a8a8a" stroke="none" stroke-width="0" stroke-linejoin="round" opacity="0.45"/><line x1="526.8" y1="663.0" x2="768.8" y2="773.0" stroke="#141414" stroke-width="2.2" stroke-linecap="round" /><line x1="768.8" y1="773.0" x2="928.6" y2="724.5" stroke="#141414" stroke-width="2.2" stroke-linecap="round" /><line x1="526.8" y1="697.5" x2="768.8" y2="807.5" stroke="#141414" stroke-width="2.6" stroke-linecap="round" /><line x1="768.8" y1="807.5" x2="928.6" y2="759.0" stroke="#141414" stroke-width="2.6" stroke-linecap="round" /><line x1="526.8" y1="663.0" x2="526.8" y2="697.5" stroke="#141414" stroke-width="2.4" stroke-linecap="round" /><line x1="768.8" y1="773.0" x2="768.8" y2="807.5" stroke="#141414" stroke-width="1.8" stroke-linecap="round" /><line x1="928.6" y1="724.5" x2="928.6" y2="759.0" stroke="#141414" stroke-width="2.4" stroke-linecap="round" /><line x1="551.0" y1="664.0" x2="780.0" y2="770.0" stroke="#141414" stroke-width="1.8" stroke-linecap="round" /><line x1="780.0" y1="770.0" x2="917.7" y2="728.0" stroke="#141414" stroke-width="1.8" stroke-linecap="round" /><polygon points="708.8,242.5 772.0,268.8 772.3,616.0 708.5,589.0" fill="#9e9e9e" stroke="none" stroke-width="0" stroke-linejoin="round" /><polygon points="772.0,268.8 839.2,251.0 839.5,598.0 772.3,616.0" fill="#c1c1c1" stroke="none" stroke-width="0" stroke-linejoin="round" /><rect x="749.4" y="373" width="63.6" height="185" fill="#666666"/><path d="M749.4,384.0 Q781.2,396.0 813,384.0" fill="none" stroke="#383838" stroke-width="1.4"/><path d="M749.4,387.9 Q781.2,399.9 813,387.9" fill="none" stroke="#383838" stroke-width="1.4"/><path d="M749.4,391.8 Q781.2,403.8 813,391.8" fill="none" stroke="#383838" stroke-width="1.4"/><path d="M749.4,395.7 Q781.2,407.7 813,395.7" fill="none" stroke="#383838" stroke-width="1.4"/><path d="M749.4,399.6 Q781.2,411.6 813,399.6" fill="none" stroke="#383838" stroke-width="1.4"/><path d="M749.4,403.5 Q781.2,415.5 813,403.5" fill="none" stroke="#383838" stroke-width="1.4"/><path d="M749.4,407.4 Q781.2,419.4 813,407.4" fill="none" stroke="#383838" stroke-width="1.4"/><path d="M749.4,411.3 Q781.2,423.3 813,411.3" fill="none" stroke="#383838" stroke-width="1.4"/><path d="M749.4,415.2 Q781.2,427.2 813,415.2" fill="none" stroke="#383838" stroke-width="1.4"/><path d="M749.4,419.1 Q781.2,431.1 813,419.1" fill="none" stroke="#383838" stroke-width="1.4"/><path d="M749.4,423.0 Q781.2,435.0 813,423.0" fill="none" stroke="#383838" stroke-width="1.4"/><path d="M749.4,426.9 Q781.2,438.9 813,426.9" fill="none" stroke="#383838" stroke-width="1.4"/><path d="M749.4,430.8 Q781.2,442.8 813,430.8" fill="none" stroke="#383838" stroke-width="1.4"/><path d="M749.4,434.7 Q781.2,446.7 813,434.7" fill="none" stroke="#383838" stroke-width="1.4"/><path d="M749.4,438.6 Q781.2,450.6 813,438.6" fill="none" stroke="#383838" stroke-width="1.4"/><path d="M749.4,442.5 Q781.2,454.5 813,442.5" fill="none" stroke="#383838" stroke-width="1.4"/><path d="M749.4,446.4 Q781.2,458.4 813,446.4" fill="none" stroke="#383838" stroke-width="1.4"/><path d="M749.4,450.3 Q781.2,462.3 813,450.3" fill="none" stroke="#383838" stroke-width="1.4"/><path d="M749.4,454.2 Q781.2,466.2 813,454.2" fill="none" stroke="#383838" stroke-width="1.4"/><path d="M749.4,458.1 Q781.2,470.1 813,458.1" fill="none" stroke="#383838" stroke-width="1.4"/><path d="M749.4,462.0 Q781.2,474.0 813,462.0" fill="none" stroke="#383838" stroke-width="1.4"/><path d="M749.4,465.9 Q781.2,477.9 813,465.9" fill="none" stroke="#383838" stroke-width="1.4"/><path d="M749.4,469.8 Q781.2,481.8 813,469.8" fill="none" stroke="#383838" stroke-width="1.4"/><path d="M749.4,473.7 Q781.2,485.7 813,473.7" fill="none" stroke="#383838" stroke-width="1.4"/><path d="M749.4,477.6 Q781.2,489.6 813,477.6" fill="none" stroke="#383838" stroke-width="1.4"/><path d="M749.4,481.5 Q781.2,493.5 813,481.5" fill="none" stroke="#383838" stroke-width="1.4"/><path d="M749.4,485.4 Q781.2,497.4 813,485.4" fill="none" stroke="#383838" stroke-width="1.4"/><path d="M749.4,489.3 Q781.2,501.3 813,489.3" fill="none" stroke="#383838" stroke-width="1.4"/><path d="M749.4,493.2 Q781.2,505.2 813,493.2" fill="none" stroke="#383838" stroke-width="1.4"/><path d="M749.4,497.1 Q781.2,509.1 813,497.1" fill="none" stroke="#383838" stroke-width="1.4"/><path d="M749.4,501.0 Q781.2,513.0 813,501.0" fill="none" stroke="#383838" stroke-width="1.4"/><path d="M749.4,504.9 Q781.2,516.9 813,504.9" fill="none" stroke="#383838" stroke-width="1.4"/><path d="M749.4,508.8 Q781.2,520.8 813,508.8" fill="none" stroke="#383838" stroke-width="1.4"/><path d="M749.4,512.7 Q781.2,524.7 813,512.7" fill="none" stroke="#383838" stroke-width="1.4"/><path d="M749.4,516.6 Q781.2,528.6 813,516.6" fill="none" stroke="#383838" stroke-width="1.4"/><path d="M749.4,520.5 Q781.2,532.5 813,520.5" fill="none" stroke="#383838" stroke-width="1.4"/><path d="M749.4,524.4 Q781.2,536.4 813,524.4" fill="none" stroke="#383838" stroke-width="1.4"/><path d="M749.4,528.3 Q781.2,540.3 813,528.3" fill="none" stroke="#383838" stroke-width="1.4"/><path d="M749.4,532.2 Q781.2,544.2 813,532.2" fill="none" stroke="#383838" stroke-width="1.4"/><path d="M749.4,536.1 Q781.2,548.1 813,536.1" fill="none" stroke="#383838" stroke-width="1.4"/><path d="M749.4,540.0 Q781.2,552.0 813,540.0" fill="none" stroke="#383838" stroke-width="1.4"/><path d="M749.4,543.9 Q781.2,555.9 813,543.9" fill="none" stroke="#383838" stroke-width="1.4"/><path d="M749.4,547.8 Q781.2,559.8 813,547.8" fill="none" stroke="#383838" stroke-width="1.4"/><path d="M749.4,551.7 Q781.2,563.7 813,551.7" fill="none" stroke="#383838" stroke-width="1.4"/><path d="M749.4,555.6 Q781.2,567.6 813,555.6" fill="none" stroke="#383838" stroke-width="1.4"/><path d="M749.4,559.5 Q781.2,571.5 813,559.5" fill="none" stroke="#383838" stroke-width="1.4"/><ellipse cx="781.2" cy="373" rx="31.8" ry="10.5" fill="#a2a2a2"/><path d="M749.4,373 Q749.4,383.5 781.2,383.5 Q813,383.5 813,373 L813,380 Q813,392 781.2,392 Q749.4,392 749.4,380 Z" fill="#707070"/><line x1="749.4" y1="373.0" x2="749.4" y2="558.0" stroke="#3a3a3a" stroke-width="1.2" stroke-linecap="round" /><line x1="813.0" y1="373.0" x2="813.0" y2="558.0" stroke="#3a3a3a" stroke-width="1.2" stroke-linecap="round" /><path d="M747,556 Q780,545 814,556 L814,578 Q780,592 747,578 Z" fill="#262626"/><ellipse cx="780.5" cy="561" rx="29" ry="8" fill="#555555"/><path d="M751.5,562 Q780,574 809.5,562 L809.5,566 Q780,579 751.5,566 Z" fill="#222"/><polygon points="708.8,571.0 749.0,572.0 749.0,578.0 813.5,578.0 813.5,572.0 839.2,568.0 839.5,598.0 772.3,616.0 708.5,589.0" fill="#353535" stroke="none" stroke-width="0" stroke-linejoin="round" /><polygon points="722.0,590.0 772.0,572.0 830.0,588.0 772.0,610.0" fill="#1a1a1a" stroke="none" stroke-width="0" stroke-linejoin="round" /><line x1="730.0" y1="590.0" x2="772.0" y2="575.0" stroke="#555" stroke-width="1.5" stroke-linecap="round" /><line x1="772.0" y1="575.0" x2="825.0" y2="589.0" stroke="#555" stroke-width="1.5" stroke-linecap="round" /><polygon points="708.8,242.5 718.9,246.7 718.9,593.2 708.8,589.0" fill="#fff" stroke="none" stroke-width="0" stroke-linejoin="round" opacity="0.08"/><polygon points="762.7,264.9 772.0,268.8 772.0,362.0 762.7,358.0" fill="#fff" stroke="none" stroke-width="0" stroke-linejoin="round" opacity="0.3"/><polygon points="762.7,358.0 772.0,362.0 772.0,616.0 762.7,612.0" fill="#fff" stroke="none" stroke-width="0" stroke-linejoin="round" opacity="0.1"/><polygon points="772.0,268.8 783.8,265.6 783.8,612.8 772.0,616.0" fill="#000" stroke="none" stroke-width="0" stroke-linejoin="round" opacity="0.06"/><polygon points="829.8,253.5 839.2,251.0 839.2,597.4 829.8,600.0" fill="#fff" stroke="none" stroke-width="0" stroke-linejoin="round" opacity="0.08"/><line x1="708.8" y1="242.5" x2="708.8" y2="589.0" stroke="#141414" stroke-width="2.1" stroke-linecap="round" /><line x1="718.9" y1="246.7" x2="718.9" y2="593.2" stroke="#141414" stroke-width="2.1" stroke-linecap="round" /><line x1="762.7" y1="264.9" x2="762.7" y2="612.0" stroke="#141414" stroke-width="2.1" stroke-linecap="round" /><line x1="772.0" y1="268.8" x2="772.0" y2="616.0" stroke="#141414" stroke-width="2.1" stroke-linecap="round" /><line x1="783.8" y1="265.6" x2="783.8" y2="612.8" stroke="#141414" stroke-width="2.1" stroke-linecap="round" /><line x1="829.8" y1="253.5" x2="829.8" y2="600.0" stroke="#141414" stroke-width="2.1" stroke-linecap="round" /><line x1="839.2" y1="251.0" x2="839.2" y2="597.4" stroke="#141414" stroke-width="2.1" stroke-linecap="round" /><ellipse cx="713.8" cy="267" rx="1.6" ry="2.2" fill="none" stroke="#8a8a8a" stroke-width="0.9"/><ellipse cx="834.5" cy="279" rx="1.6" ry="2.2" fill="none" stroke="#999" stroke-width="0.9"/><ellipse cx="767.3" cy="285" rx="1.6" ry="2.2" fill="none" stroke="#999" stroke-width="0.9"/><ellipse cx="713.8" cy="305" rx="1.6" ry="2.2" fill="none" stroke="#8a8a8a" stroke-width="0.9"/><ellipse cx="834.5" cy="317" rx="1.6" ry="2.2" fill="none" stroke="#999" stroke-width="0.9"/><ellipse cx="767.3" cy="323" rx="1.6" ry="2.2" fill="none" stroke="#999" stroke-width="0.9"/><ellipse cx="713.8" cy="343" rx="1.6" ry="2.2" fill="none" stroke="#8a8a8a" stroke-width="0.9"/><ellipse cx="834.5" cy="355" rx="1.6" ry="2.2" fill="none" stroke="#999" stroke-width="0.9"/><ellipse cx="767.3" cy="361" rx="1.6" ry="2.2" fill="none" stroke="#999" stroke-width="0.9"/><ellipse cx="713.8" cy="381" rx="1.6" ry="2.2" fill="none" stroke="#8a8a8a" stroke-width="0.9"/><ellipse cx="834.5" cy="393" rx="1.6" ry="2.2" fill="none" stroke="#999" stroke-width="0.9"/><ellipse cx="767.3" cy="399" rx="1.6" ry="2.2" fill="none" stroke="#999" stroke-width="0.9"/><ellipse cx="713.8" cy="419" rx="1.6" ry="2.2" fill="none" stroke="#8a8a8a" stroke-width="0.9"/><ellipse cx="834.5" cy="431" rx="1.6" ry="2.2" fill="none" stroke="#999" stroke-width="0.9"/><ellipse cx="767.3" cy="437" rx="1.6" ry="2.2" fill="none" stroke="#999" stroke-width="0.9"/><ellipse cx="713.8" cy="457" rx="1.6" ry="2.2" fill="none" stroke="#8a8a8a" stroke-width="0.9"/><ellipse cx="834.5" cy="469" rx="1.6" ry="2.2" fill="none" stroke="#999" stroke-width="0.9"/><ellipse cx="767.3" cy="475" rx="1.6" ry="2.2" fill="none" stroke="#999" stroke-width="0.9"/><ellipse cx="713.8" cy="495" rx="1.6" ry="2.2" fill="none" stroke="#8a8a8a" stroke-width="0.9"/><ellipse cx="834.5" cy="507" rx="1.6" ry="2.2" fill="none" stroke="#999" stroke-width="0.9"/><ellipse cx="767.3" cy="513" rx="1.6" ry="2.2" fill="none" stroke="#999" stroke-width="0.9"/><ellipse cx="713.8" cy="533" rx="1.6" ry="2.2" fill="none" stroke="#8a8a8a" stroke-width="0.9"/><ellipse cx="834.5" cy="545" rx="1.6" ry="2.2" fill="none" stroke="#999" stroke-width="0.9"/><ellipse cx="767.3" cy="551" rx="1.6" ry="2.2" fill="none" stroke="#999" stroke-width="0.9"/><ellipse cx="713.8" cy="571" rx="1.6" ry="2.2" fill="none" stroke="#8a8a8a" stroke-width="0.9"/><ellipse cx="834.5" cy="583" rx="1.6" ry="2.2" fill="none" stroke="#999" stroke-width="0.9"/><ellipse cx="767.3" cy="589" rx="1.6" ry="2.2" fill="none" stroke="#999" stroke-width="0.9"/><path d="M777.5,396 L780,400 Q777.5,403 775,400 Z" fill="#111"/><path d="M777.5,436 L780,440 Q777.5,443 775,440 Z" fill="#111"/><path d="M777.5,475 L780,479 Q777.5,482 775,479 Z" fill="#111"/><path d="M777.5,515 L780,519 Q777.5,522 775,519 Z" fill="#111"/><line x1="708.5" y1="589.0" x2="772.3" y2="616.0" stroke="#141414" stroke-width="2.4" stroke-linecap="round" /><line x1="772.3" y1="616.0" x2="839.5" y2="598.0" stroke="#141414" stroke-width="2.4" stroke-linecap="round" /><polygon points="672.7,215.3 760.2,188.6 855.5,233.1 855.5,239.5 846.0,243.0 839.0,251.0 771.0,269.0 695.0,235.0 687.0,226.0 673.7,219.0" fill="#8c8c8c" stroke="none" stroke-width="0" stroke-linejoin="round" /><polygon points="684.0,225.0 770.0,259.0 850.0,239.0 846.0,243.5 771.0,265.0 692.0,232.0" fill="#c2c2c2" stroke="none" stroke-width="0" stroke-linejoin="round" opacity="0.85"/><polygon points="672.7,215.3 760.2,188.6 855.5,233.1 768.8,251.1" fill="#939393" stroke="none" stroke-width="0" stroke-linejoin="round" /><polygon points="700.0,216.0 765.0,195.0 830.0,228.0 768.0,244.0" fill="#a0a0a0" stroke="none" stroke-width="0" stroke-linejoin="round" /><line x1="700.0" y1="216.0" x2="765.0" y2="195.0" stroke="#222" stroke-width="1.6" stroke-linecap="round" /><line x1="672.7" y1="215.3" x2="700.0" y2="216.0" stroke="#222" stroke-width="1.6" stroke-linecap="round" /><ellipse cx="771.1" cy="221.4" rx="32" ry="12.2" fill="#d4d4d4" stroke="#111" stroke-width="1.9"/><path d="M744,226 L782,214 L782,220 L748,231 Z" fill="#a8a8a8"/><rect x="778" y="213" width="8" height="38" fill="#fff" opacity="0.25"/><polygon points="672.7,215.3 760.2,188.6 855.5,233.1 768.8,251.1" fill="none" stroke="#141414" stroke-width="2.3" stroke-linejoin="round" /><line x1="673.7" y1="219.5" x2="769.0" y2="262.5" stroke="#141414" stroke-width="2.1" stroke-linecap="round" /><line x1="769.0" y1="262.5" x2="855.5" y2="240.0" stroke="#141414" stroke-width="2.1" stroke-linecap="round" /><line x1="695.0" y1="235.0" x2="771.0" y2="269.0" stroke="#141414" stroke-width="2.3" stroke-linecap="round" /><line x1="771.0" y1="269.0" x2="839.0" y2="251.0" stroke="#141414" stroke-width="2.3" stroke-linecap="round" /><line x1="768.8" y1="251.1" x2="769.0" y2="262.5" stroke="#141414" stroke-width="1.8" stroke-linecap="round" /><line x1="855.5" y1="233.1" x2="855.5" y2="240.0" stroke="#141414" stroke-width="1.8" stroke-linecap="round" /><line x1="672.7" y1="215.3" x2="673.7" y2="219.5" stroke="#141414" stroke-width="1.8" stroke-linecap="round" /><path d="M687,226 Q690,228 695,235" fill="none" stroke="#141414" stroke-width="2"/><path d="M846,243 Q842,246 839,251" fill="none" stroke="#141414" stroke-width="2"/><line x1="670.0" y1="225.0" x2="693.8" y2="235.0" stroke="#3a3a3a" stroke-width="1.1" stroke-linecap="round" /><line x1="677.0" y1="222.0" x2="670.0" y2="225.0" stroke="#3a3a3a" stroke-width="1.6" stroke-linecap="round" /><line x1="706.9" y1="243.0" x2="666.0" y2="257.5" stroke="#3a3a3a" stroke-width="1.1" stroke-linecap="round" /><line x1="666.0" y1="257.5" x2="728.0" y2="285.6" stroke="#3a3a3a" stroke-width="1.1" stroke-linecap="round" /><line x1="728.0" y1="285.6" x2="770.0" y2="270.6" stroke="#3a3a3a" stroke-width="1.1" stroke-linecap="round" /><line x1="841.6" y1="251.0" x2="886.9" y2="272.0" stroke="#3a3a3a" stroke-width="1.1" stroke-linecap="round" /><line x1="886.9" y1="273.0" x2="886.9" y2="618.0" stroke="#808080" stroke-width="1.8" stroke-linecap="round" /><path d="M886.9,272 L885,283 L888.8,283 Z" fill="#333"/><path d="M886.9,619 L885,608 L888.8,608 Z" fill="#333"/><line x1="841.9" y1="598.0" x2="968.4" y2="655.6" stroke="#3a3a3a" stroke-width="1.1" stroke-linecap="round" /><line x1="968.4" y1="656.0" x2="968.4" y2="777.5" stroke="#555" stroke-width="1.2" stroke-linecap="round" /><path d="M968.4,655.6 L966.4,666 L970.4,666 Z" fill="#333"/><path d="M968.4,777.5 L966.4,767 L970.4,767 Z" fill="#333"/><line x1="928.6" y1="759.0" x2="968.4" y2="777.5" stroke="#3a3a3a" stroke-width="1.1" stroke-linecap="round" /><line x1="768.8" y1="807.5" x2="807.8" y2="826.4" stroke="#3a3a3a" stroke-width="1.1" stroke-linecap="round" /><line x1="807.8" y1="826.4" x2="968.0" y2="778.0" stroke="#3a3a3a" stroke-width="1.1" stroke-linecap="round" /><line x1="526.8" y1="697.5" x2="485.0" y2="711.0" stroke="#3a3a3a" stroke-width="1.1" stroke-linecap="round" /><line x1="485.0" y1="711.0" x2="726.0" y2="822.0" stroke="#3a3a3a" stroke-width="1.1" stroke-linecap="round" /><line x1="768.8" y1="807.5" x2="726.0" y2="822.0" stroke="#3a3a3a" stroke-width="1.1" stroke-linecap="round" /><text class="r" x="685.5" y="205.8" font-size="27" fill="#111">8</text><line x1="701.0" y1="190.3" x2="702.6" y2="183.3" stroke="#111" stroke-width="2.1" stroke-linecap="round" /><line x1="707.2" y1="188.7" x2="709.0" y2="181.7" stroke="#111" stroke-width="2.1" stroke-linecap="round" /><text class="r" x="0" y="0" font-size="25" fill="#111" transform="matrix(0.9135,0.4067,-0.4067,0.9135,659,280.5)" textLength="48" lengthAdjust="spacingAndGlyphs">9.2<tspan font-style="italic">''</tspan></text><text class="r" x="0" y="0" font-size="30" fill="#111" transform="matrix(0,1,-1,0,893.4,424.5)" textLength="42" lengthAdjust="spacingAndGlyphs">36<tspan font-style="italic">''</tspan></text><text class="r" x="0" y="0" font-size="35" fill="#111" transform="matrix(0,1,-1,0,975,676.5)" textLength="89" lengthAdjust="spacingAndGlyphs">13.75<tspan font-style="italic">''</tspan></text><text class="r" x="0" y="0" font-size="27" fill="#111" transform="matrix(0.9563,-0.2924,0.2924,0.9563,838,851)" textLength="144" lengthAdjust="spacingAndGlyphs">17.7<tspan font-style="italic">''</tspan> / 19.7<tspan font-style="italic">''</tspan></text><text class="r" x="0" y="0" font-size="29" fill="#111" transform="matrix(0.9078,0.4195,-0.4195,0.9078,478,748)" textLength="228" lengthAdjust="spacingAndGlyphs">30<tspan font-style="italic">''</tspan> /36<tspan font-style="italic">''</tspan> /42<tspan font-style="italic">''</tspan> /48<tspan font-style="italic">''</tspan></text></g></svg></body></html>
